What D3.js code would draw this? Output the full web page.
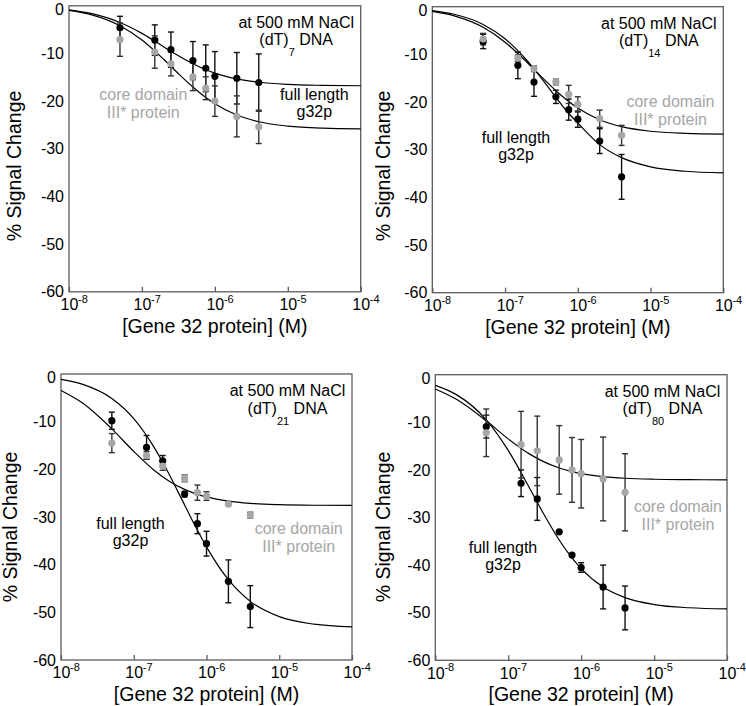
<!DOCTYPE html>
<html>
<head>
<meta charset="utf-8">
<script src="https://cdn.jsdelivr.net/npm/d3@7"></script>
<style>
  html, body { margin: 0; padding: 0; background: #fff; }
  svg { display: block; }
  text { font-family: "Liberation Sans", Arial, Helvetica, sans-serif; }
</style>
</head>
<body>
<svg id="chart" width="746" height="706"></svg>
<script>
// ---------- data ----------
// protein concentrations of the measured points (M)
const conc = [5e-8, 1.5e-7, 2.5e-7, 5e-7, 7.5e-7, 1e-6, 2e-6, 4e-6];

// (dT)7
const dt7FullVals = [-4.6, -7.2, -9.2, -11.5, -13.1, -14.8, -15.2, -16.1];
const dt7FullErr  = [2.4, 3.2, 3.7, 4.0, 4.9, 5.2, 5.4, 6.0];
const dt7CoreVals = [-7.1, -9.7, -12.2, -14.9, -17.3, -20.0, -23.2, -25.4];
const dt7CoreErr  = [3.5, 3.4, 2.5, 2.9, 2.4, 3.2, 4.3, 3.5];

// (dT)14
const dt14FullVals = [-7.3, -12.3, -15.8, -18.9, -21.6, -23.6, -28.2, -35.7];
const dt14FullErr  = [1.5, 2.8, 3.0, 1.4, 2.2, 1.7, 2.6, 4.7];
const dt14CoreVals = [-6.8, -10.8, -13.0, -15.8, -18.4, -20.5, -23.5, -27.0];
const dt14CoreErr  = [1.2, 0.7, 0.6, 0.6, 1.9, 1.6, 1.8, 2.1];

// (dT)21
const dt21FullVals = [-9.8, -15.4, -18.2, -25.2, -31.4, -35.6, -43.5, -48.8];
const dt21FullErr  = [1.8, 2.5, 1.1, 0.6, 2.1, 2.6, 4.5, 4.4];
const dt21CoreVals = [-14.5, -17.1, -19.3, -21.9, -24.9, -25.6, -27.3, -29.6];
const dt21CoreErr  = [2.0, 0.8, 0.9, 0.7, 1.6, 0.9, 0.3, 0.6];

// (dT)80
const dt80FullVals = [-10.9, -22.8, -26.1, -33.0, -37.9, -40.5, -44.6, -49.0];
const dt80FullErr  = [2.4, 2.8, 4.5, 0, 0, 1.0, 4.6, 4.6];
const dt80CoreVals = [-12.2, -14.7, -16.0, -17.9, -20.0, -20.8, -21.9, -24.7];
const dt80CoreErr  = [5.0, 7.0, 7.3, 7.2, 6.8, 7.2, 8.8, 8.1];

// fitted curves
const curveConc = [1e-8, 2e-8, 5e-8, 1e-7, 2e-7, 3e-7, 5e-7, 7e-7, 1e-6, 2e-6, 4e-6, 1e-5, 3e-5, 1e-4];
const dt7FullCurve  = [-0.84, -1.60, -3.50, -5.79, -8.62, -10.29, -12.17, -13.21, -14.12, -15.34, -16.04, -16.49, -16.69, -16.77];
const dt7CoreCurve  = [-0.96, -1.85, -4.18, -7.19, -11.26, -13.88, -17.04, -18.89, -20.56, -22.92, -24.32, -25.24, -25.68, -25.83];
const dt14FullCurve = [-0.81, -1.59, -3.72, -6.73, -11.29, -14.58, -19.02, -21.88, -24.4, -28.93, -31.67, -33.59, -34.52, -34.85];
const dt14CoreCurve = [-0.99, -1.91, -4.32, -7.44, -11.65, -14.36, -17.63, -19.54, -21.27, -23.72, -25.16, -26.13, -26.57, -26.73];
const dt21FullCurve = [-1.11, -2.18, -5.13, -9.35, -15.91, -20.77, -27.47, -31.89, -36.26, -43.16, -47.70, -50.91, -52.48, -53.05];
const dt21CoreCurve = [-3.45, -6.13, -11.5, -16.24, -20.44, -22.38, -24.21, -25.09, -25.79, -26.67, -27.13, -27.41, -27.54, -27.58];
const dt80FullCurve = [-2.24, -4.29, -9.48, -15.90, -24.05, -29.0, -34.72, -37.92, -40.74, -44.62, -46.84, -48.29, -48.96, -49.20];
const dt80CoreCurve = [-2.99, -5.26, -9.69, -13.48, -16.74, -18.21, -19.59, -20.25, -20.77, -21.41, -21.75, -21.96, -22.05, -22.09];

// axes
const yTicks = [0, -10, -20, -30, -40, -50, -60];
const xTickExps = [-8, -7, -6, -5, -4];
const xTitle = "[Gene 32 protein] (M)";
const yTitle = "% Signal Change";
const saltLabel = "at 500 mM NaCl";
const dnaLengths = ["7", "14", "21", "80"];
const fullLabel = ["full length", "g32p"];
const coreLabel = ["core domain", "III* protein"];

// ---------- layout ----------
const BLACK = "#000";
const GREY = "#a6a6a6";
const FRAME = "#5c5c5c";

const panels = [
  { box: {l: 69,    r: 360.7, t: 5.8,   b: 291.8}, yTitleX: 20.5, yTitleY: 166,
    len: dnaLengths[0], full: [dt7FullVals, dt7FullErr, dt7FullCurve], core: [dt7CoreVals, dt7CoreErr, dt7CoreCurve],
    fullPos: [314.3, 100], corePos: [143.3, 100] },
  { box: {l: 432.3, r: 723.3, t: 6.7,   b: 292.7}, yTitleX: 390, yTitleY: 166,
    len: dnaLengths[1], full: [dt14FullVals, dt14FullErr, dt14FullCurve], core: [dt14CoreVals, dt14CoreErr, dt14CoreCurve],
    fullPos: [516, 143.3], corePos: [670.5, 107.3] },
  { box: {l: 61,    r: 352,   t: 374,   b: 660},   yTitleX: 17, yTitleY: 527,
    len: dnaLengths[2], full: [dt21FullVals, dt21FullErr, dt21FullCurve], core: [dt21CoreVals, dt21CoreErr, dt21CoreCurve],
    fullPos: [130.5, 529.3], corePos: [298.7, 534.3] },
  { box: {l: 435.3, r: 727,   t: 374.7, b: 660.3}, yTitleX: 390, yTitleY: 527,
    len: dnaLengths[3], full: [dt80FullVals, dt80FullErr, dt80FullCurve], core: [dt80CoreVals, dt80CoreErr, dt80CoreCurve],
    fullPos: [503, 553.3], corePos: [678, 512.3] }
];

const svg = d3.select("#chart");
svg.append("rect").attr("width", 746).attr("height", 706).attr("fill", "#fff");

panels.forEach(p => {
  const B = p.box;
  const x = d3.scaleLog().domain([1e-8, 1e-4]).range([B.l, B.r]);
  const y = d3.scaleLinear().domain([-60, 0]).range([B.b, B.t]);
  const g = svg.append("g");

  // y axis (labels only)
  const yAx = g.append("g").attr("transform", `translate(${B.l},0)`)
    .call(d3.axisLeft(y).tickValues(yTicks).tickSize(0).tickPadding(5)
      .tickFormat(d => d === 0 ? "0" : "-" + Math.abs(d)));
  yAx.select(".domain").remove();
  yAx.selectAll("text").attr("font-size", 16).attr("fill", "#000")
    .attr("font-family", '"Liberation Sans", Arial, sans-serif');
  // keep the top "0" label inside the page
  yAx.selectAll(".tick").filter(d => d === 0).select("text").attr("dy", "0.52em");

  // x axis (inward ticks, custom power labels)
  const xAx = g.append("g").attr("transform", `translate(0,${B.b})`)
    .call(d3.axisBottom(x).tickValues(xTickExps.map(e => Math.pow(10, e))).tickSize(-5).tickFormat(""));
  xAx.select(".domain").remove();
  xAx.selectAll(".tick line").attr("stroke", FRAME).attr("stroke-width", 1.3);
  xAx.selectAll(".tick").each(function(d, i) {
    const t = d3.select(this);
    t.append("text").attr("x", 0).attr("y", 18.3).attr("text-anchor", "middle")
      .attr("font-size", 16).attr("fill", "#000").text("10");
    t.append("text").attr("x", 8.6).attr("y", 11).attr("text-anchor", "start")
      .attr("font-size", 11).attr("fill", "#000").text("-" + Math.abs(xTickExps[i]));
  });

  // frame
  g.append("rect").attr("x", B.l).attr("y", B.t).attr("width", B.r - B.l).attr("height", B.b - B.t)
    .attr("fill", "none").attr("stroke", FRAME).attr("stroke-width", 1.3);

  // titles
  g.append("text").attr("x", (B.l + B.r) / 2).attr("y", B.b + 41).attr("text-anchor", "middle")
    .attr("font-size", 19.5).attr("fill", "#000").text(xTitle);
  g.append("text").attr("transform", `translate(${p.yTitleX},${p.yTitleY}) rotate(-90)`)
    .attr("text-anchor", "middle").attr("font-size", 19.5).attr("fill", "#000").text(yTitle);

  // annotation block
  const cx = B.r - 64.5;
  g.append("text").attr("x", cx).attr("y", B.t + 22).attr("text-anchor", "middle")
    .attr("font-size", 16).attr("fill", "#000").text(saltLabel);
  const t2 = g.append("text").attr("x", cx).attr("y", B.t + 39.5).attr("text-anchor", "middle")
    .attr("font-size", 16).attr("fill", "#000");
  t2.append("tspan").text("(dT)");
  t2.append("tspan").attr("font-size", 11).attr("dy", 11).text(p.len);
  t2.append("tspan").attr("dy", -11).text(" DNA");

  // curves
  const line = d3.line().x(d => x(d[0])).y(d => y(d[1])).curve(d3.curveMonotoneX);
  [p.core[2], p.full[2]].forEach(c => {
    g.append("path").datum(curveConc.map((cc, i) => [cc, c[i]]))
      .attr("d", line).attr("fill", "none").attr("stroke", "#000").attr("stroke-width", 1.2);
  });

  // error bars
  const drawErr = (vals, errs, col) => {
    conc.forEach((c, i) => {
      const e = errs[i];
      if (!e) return;
      const xx = x(c), y1 = y(vals[i] + e), y2 = y(vals[i] - e);
      g.append("line").attr("x1", xx).attr("x2", xx).attr("y1", y1).attr("y2", y2)
        .attr("stroke", col).attr("stroke-width", 1.4);
      [y1, y2].forEach(yy => g.append("line").attr("x1", xx - 3).attr("x2", xx + 3)
        .attr("y1", yy).attr("y2", yy).attr("stroke", col).attr("stroke-width", 1.4));
    });
  };
  drawErr(p.full[0], p.full[1], "#111");
  drawErr(p.core[0], p.core[1], "#333");

  // points
  const drawPts = (vals, col) => {
    g.selectAll(null).data(conc.map((c, i) => [c, vals[i]])).enter().append("circle")
      .attr("cx", d => x(d[0])).attr("cy", d => y(d[1])).attr("r", 3.6).attr("fill", col);
  };
  drawPts(p.full[0], BLACK);
  drawPts(p.core[0], GREY);

  // series labels
  fullLabel.forEach((s, i) => g.append("text").attr("x", p.fullPos[0]).attr("y", p.fullPos[1] + i * 16.8)
    .attr("text-anchor", "middle").attr("font-size", 16).attr("fill", "#000").text(s));
  coreLabel.forEach((s, i) => g.append("text").attr("x", p.corePos[0]).attr("y", p.corePos[1] + i * 17.5)
    .attr("text-anchor", "middle").attr("font-size", 16).attr("fill", GREY).text(s));
});
</script>
</body>
</html>
